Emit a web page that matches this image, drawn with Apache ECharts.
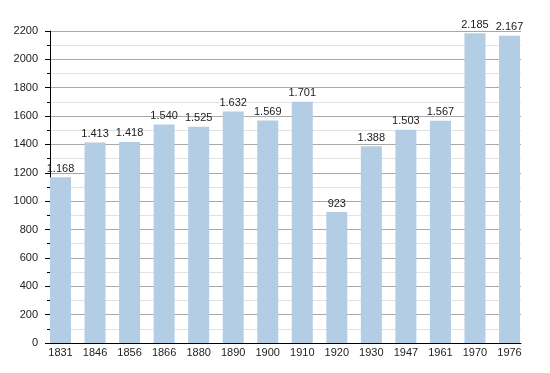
<!DOCTYPE html>
<html><head><meta charset="utf-8">
<script src="https://cdn.jsdelivr.net/npm/echarts@6/dist/echarts.min.js"></script>
<style>html,body{margin:0;padding:0;background:#fff}#c{width:550px;height:373px}</style>
</head><body><div id="c"></div>
<script>
const years = ['1831','1846','1856','1866','1880','1890','1900','1910','1920','1930','1947','1961','1970','1976'];
const population = [1168,1413,1418,1540,1525,1632,1569,1701,923,1388,1503,1567,2185,2167];
const yMin = 0, yMax = 2200, yStep = 200;

function fmt(v){ return String(v).replace(/\B(?=(\d{3})+(?!\d))/g,'.'); }

const font = 'Liberation Sans, Arial, sans-serif';
const chart = echarts.init(document.getElementById('c'), null, {renderer:'canvas'});
chart.setOption({
  animation:false,
  backgroundColor:'#fff',
  textStyle:{fontFamily:font},
  grid:[
    {left:50,right:29,top:31,bottom:30,containLabel:false},
    {left:60.5,right:40.5,top:31,bottom:30,containLabel:false}
  ],
  xAxis:[{
    gridIndex:0, type:'category', data:years,
    axisLine:{show:true,lineStyle:{color:'#000',width:1}},
    axisTick:{show:false}, axisLabel:{show:false}, splitLine:{show:false}
  },{
    gridIndex:1, type:'category', data:years, boundaryGap:false,
    axisLine:{show:false}, axisTick:{show:false},
    axisLabel:{color:'#222',fontSize:11,margin:4,fontFamily:font},
    splitLine:{show:false}
  }],
  yAxis:[{
    gridIndex:0, type:'value', min:yMin, max:yMax, interval:yStep,
    axisLine:{show:true,lineStyle:{color:'#000',width:1}},
    axisTick:{show:true,length:5,lineStyle:{color:'#000'}},
    minorTick:{show:true,splitNumber:2,length:3,lineStyle:{color:'#000'}},
    axisLabel:{color:'#222',fontSize:11,margin:12,fontFamily:font,formatter:v=>String(v)},
    splitLine:{show:true,lineStyle:{color:'#a8a8a8',width:1}},
    minorSplitLine:{show:true,lineStyle:{color:'#e2e2e2',width:1}}
  },{
    gridIndex:1, type:'value', min:yMin, max:yMax, interval:yStep, show:false,
    splitLine:{show:false}
  }],
  series:[{
    type:'bar', xAxisIndex:1, yAxisIndex:1, data:population,
    barWidth:21,
    itemStyle:{color:'#b3cde5'},
    label:{show:true,position:'top',distance:3,color:'#222',fontSize:11,fontFamily:font,formatter:p=>fmt(p.value)}
  }]
});
</script></body></html>
